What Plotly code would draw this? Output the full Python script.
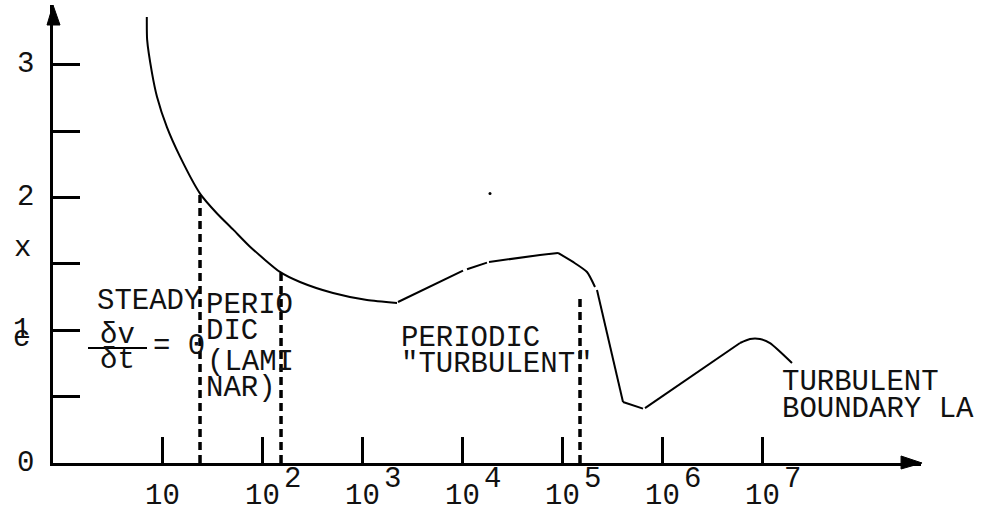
import math
import plotly.graph_objects as go

# ---- data ----
# main drag curve: Reynolds number vs drag coefficient (segments separated by None)
re_values = [7.05, 7.1, 7.94, 8.91, 11.2, 15.1, 24.0, 35.5, 51.3, 75.9, 151, 240, 513, 1122, 2239, None,
             2291, 10233, None,
             11220, 17783, None,
             18621, 60256, 91201, None,
             91201, 128825, 177828, 213796, None,
             223872, 407380, None,
             407380, 645654, None,
             676083, 6025596, None,
             6025596, 7585776, 9549926, 12022644, 19952623]
cd_values = [3.36, 3.19, 2.94, 2.76, 2.53, 2.31, 2.03, 1.88, 1.76, 1.63, 1.44, 1.364, 1.281, 1.228, 1.206, None,
             1.213, 1.45, None,
             1.46, 1.51, None,
             1.515, 1.567, 1.583, None,
             1.583, 1.515, 1.439, 1.326, None,
             1.304, 0.46, None,
             0.46, 0.41, None,
             0.414, 0.904, None,
             0.904, 0.934, 0.934, 0.904, 0.754]

# dashed regime boundaries
boundary_re = [24.0, 155, 151356]
boundary_top = [2.03, 1.46, 1.27]

# stray dot
dot_re = [19055]
dot_cd = [2.03]

# fraction bar of dv/dt (Re span, Cd level)
frac_re = [1.82, 7.08]
frac_cd = [0.867, 0.867]

# axis ticks / labels
decades = [10, 100, 1e3, 1e4, 1e5, 1e6, 1e7]
decade_exp = ["", "2", "3", "4", "5", "6", "7"]
y_ticks = [0.5, 1, 1.5, 2, 2.5, 3]
y_labels = {0: "0", 1: "1", 2: "2", 3: "3"}

# region labels: (text, x position as Re, y position as Cd)
region_labels = [
    ("STEADY", 10 ** 0.33, 1.22),
    ("PERIO", 10 ** 1.42, 1.19),
    ("DIC", 10 ** 1.42, 0.99),
    ("(LAMI", 10 ** 1.43, 0.76),
    ("NAR)", 10 ** 1.42, 0.56),
    ("PERIODIC", 10 ** 3.37, 0.94),
    ("\"TURBULENT\"", 10 ** 3.37, 0.74),
    ("TURBULENT", 10 ** 7.18, 0.61),
    ("BOUNDARY LA", 10 ** 7.18, 0.40),
]

FONT = "Courier New, Liberation Mono, monospace"
FS = 29
TXT = "#111"

fig = go.Figure()

fig.add_trace(go.Scatter(x=re_values, y=cd_values, mode="lines",
                         line=dict(color="black", width=2, shape="spline", smoothing=0.6),
                         connectgaps=False, hoverinfo="skip", showlegend=False))

bx, by = [], []
for r, t in zip(boundary_re, boundary_top):
    bx += [r, r, None]
    by += [0, t, None]
fig.add_trace(go.Scatter(x=bx, y=by, mode="lines",
                         line=dict(color="black", width=3.5, dash="8px,5px"),
                         hoverinfo="skip", showlegend=False))

fig.add_trace(go.Scatter(x=frac_re, y=frac_cd, mode="lines",
                         line=dict(color="black", width=2),
                         hoverinfo="skip", showlegend=False))

fig.add_trace(go.Scatter(x=dot_re, y=dot_cd, mode="markers",
                         marker=dict(color="black", size=3),
                         hoverinfo="skip", showlegend=False))

ann = []
for d, e in zip(decades, decade_exp):
    lx = math.log10(d)
    ann.append(dict(x=lx, y=0, xref="x", yref="y", text="10", showarrow=False,
                    xanchor="center", yanchor="middle", yshift=-33,
                    font=dict(family=FONT, size=FS, color=TXT)))
    if e:
        ann.append(dict(x=lx, y=0, xref="x", yref="y", text=e, showarrow=False,
                        xanchor="center", yanchor="middle", xshift=30, yshift=-16,
                        font=dict(family=FONT, size=FS, color=TXT)))

for v, t in y_labels.items():
    ann.append(dict(x=0, y=v, xref="paper", yref="y", text=t, showarrow=False,
                    xanchor="center", yanchor="middle", xshift=-28 if v != 1 else -32,
                    font=dict(family=FONT, size=FS, color=TXT)))
# axis letters (c ... x)
ann.append(dict(x=0, y=0.94, xref="paper", yref="y", text="c", showarrow=False,
                xanchor="center", yanchor="middle", xshift=-32,
                font=dict(family=FONT, size=FS, color=TXT)))
ann.append(dict(x=0, y=1.62, xref="paper", yref="y", text="x", showarrow=False,
                xanchor="center", yanchor="middle", xshift=-31,
                font=dict(family=FONT, size=FS, color=TXT)))

for t, xr, yc in region_labels:
    ann.append(dict(x=math.log10(xr), y=yc, xref="x", yref="y", text=t, showarrow=False,
                    xanchor="left", yanchor="middle",
                    font=dict(family=FONT, size=FS, color=TXT)))

# fraction  δv/δt = 0
ann.append(dict(x=0.55, y=0.96, xref="x", yref="y", text="δv", showarrow=False,
                xanchor="center", yanchor="middle", font=dict(family=FONT, size=FS, color=TXT)))
ann.append(dict(x=0.55, y=0.77, xref="x", yref="y", text="δt", showarrow=False,
                xanchor="center", yanchor="middle", font=dict(family=FONT, size=FS, color=TXT)))
ann.append(dict(x=0.89, y=0.88, xref="x", yref="y", text="= 0", showarrow=False,
                xanchor="left", yanchor="middle", font=dict(family=FONT, size=FS, color=TXT)))

shapes = [
    # arrowheads
    dict(type="path", xref="paper", yref="paper",
         path="M -0.0069 0.9563 L 0 1.0 L 0.0081 0.9563 Z",
         fillcolor="black", line=dict(color="black", width=1)),
    dict(type="path", xref="paper", yref="paper",
         path="M 0.977 0.0153 L 1.0012 0 L 0.977 -0.0131 Z",
         fillcolor="black", line=dict(color="black", width=1)),
]

fig.update_layout(
    width=991, height=512,
    margin=dict(l=53, r=70, t=5, b=49),
    paper_bgcolor="white", plot_bgcolor="white",
    showlegend=False,
    annotations=ann, shapes=shapes,
    xaxis=dict(type="log", range=[-0.09, 8.59], showgrid=False, zeroline=False,
               showline=True, linecolor="black", linewidth=3,
               tickvals=decades, ticks="inside", ticklen=26, tickwidth=2.5,
               tickcolor="black", showticklabels=False, fixedrange=True),
    yaxis=dict(range=[0, 3.451], showgrid=False, zeroline=False,
               showline=True, linecolor="black", linewidth=3,
               tickvals=y_ticks, ticks="inside", ticklen=27, tickwidth=2.5,
               tickcolor="black", showticklabels=False, fixedrange=True),
)

fig.write_html("out.html", config={"displayModeBar": False},
               post_script="document.body.style.margin='0';document.body.style.overflow='hidden';")
